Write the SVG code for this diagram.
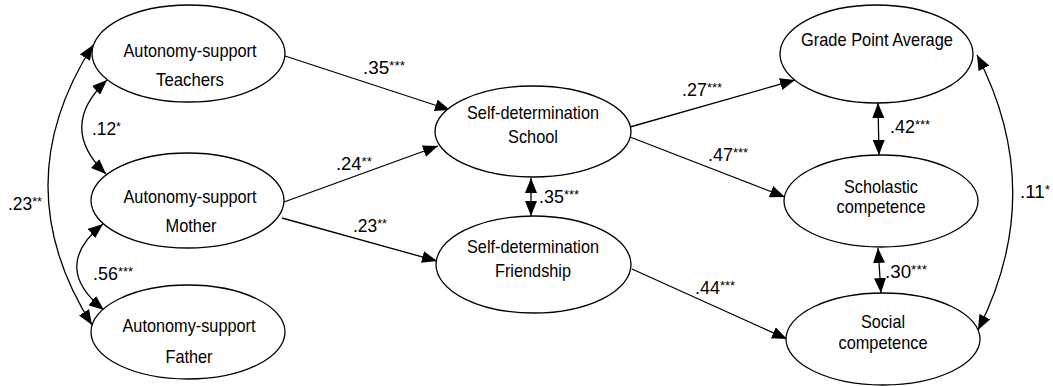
<svg xmlns="http://www.w3.org/2000/svg" width="1053" height="386" viewBox="0 0 1053 386">
<style>
.node ellipse{fill:#fff;stroke:#000;stroke-width:1.3}
text{font-family:"Liberation Sans",Arial,sans-serif;font-size:18px;fill:#000}
.node text{font-size:18.5px}
.c{text-anchor:middle}
.sup{font-size:13px}
.conn path{fill:none;stroke:#000;stroke-width:1.3}
</style>
<defs>
<marker id="ah" viewBox="0 0 15 12" refX="15" refY="6" markerWidth="15" markerHeight="12" markerUnits="userSpaceOnUse" orient="auto-start-reverse"><path d="M0,0 L15,6 L0,12 z" fill="#000"/></marker>
</defs>
<g class="conn">
<path d="M285,56 L450,110" marker-end="url(#ah)"/>
<path d="M284,202 L438,146" marker-end="url(#ah)"/>
<path d="M282,218 L437,261" marker-end="url(#ah)"/>
<path d="M630,127 L795,80" marker-end="url(#ah)"/>
<path d="M630,137 L785,197" marker-end="url(#ah)"/>
<path d="M632,269 L787,339" marker-end="url(#ah)"/>
<path d="M531,178 L531,216" marker-start="url(#ah)" marker-end="url(#ah)"/>
<path d="M878,103 L879,155" marker-start="url(#ah)" marker-end="url(#ah)"/>
<path d="M878,248 L881,293" marker-start="url(#ah)" marker-end="url(#ah)"/>
<path d="M107,80 Q57,127 106,174" marker-start="url(#ah)" marker-end="url(#ah)"/>
<path d="M103,224 Q50,267 104,310" marker-start="url(#ah)" marker-end="url(#ah)"/>
<path d="M93,45 Q3.5,185 92,325" marker-start="url(#ah)" marker-end="url(#ah)"/>
<path d="M977,55 Q1048,192 978,330" marker-start="url(#ah)" marker-end="url(#ah)"/>
</g>
<g id="labels">
<text x="363" y="74" textLength="42" lengthAdjust="spacingAndGlyphs">.35<tspan class="sup" dy="-4">***</tspan></text>
<text x="336" y="170" textLength="36" lengthAdjust="spacingAndGlyphs">.24<tspan class="sup" dy="-4">**</tspan></text>
<text x="353" y="232" textLength="34" lengthAdjust="spacingAndGlyphs">.23<tspan class="sup" dy="-4">**</tspan></text>
<text x="539" y="203" textLength="40" lengthAdjust="spacingAndGlyphs">.35<tspan class="sup" dy="-4">***</tspan></text>
<text x="682" y="96" textLength="40" lengthAdjust="spacingAndGlyphs">.27<tspan class="sup" dy="-4">***</tspan></text>
<text x="708" y="161" textLength="40" lengthAdjust="spacingAndGlyphs">.47<tspan class="sup" dy="-4">***</tspan></text>
<text x="695" y="294" textLength="40" lengthAdjust="spacingAndGlyphs">.44<tspan class="sup" dy="-4">***</tspan></text>
<text x="890" y="133" textLength="40" lengthAdjust="spacingAndGlyphs">.42<tspan class="sup" dy="-4">***</tspan></text>
<text x="885" y="278" textLength="42" lengthAdjust="spacingAndGlyphs">.30<tspan class="sup" dy="-4">***</tspan></text>
<text x="1020" y="198" textLength="30" lengthAdjust="spacingAndGlyphs">.11<tspan class="sup" dy="-4">*</tspan></text>
<text x="92" y="135" textLength="29" lengthAdjust="spacingAndGlyphs">.12<tspan class="sup" dy="-4">*</tspan></text>
<text x="93" y="280" textLength="40" lengthAdjust="spacingAndGlyphs">.56<tspan class="sup" dy="-4">***</tspan></text>
<text x="8" y="210" textLength="34" lengthAdjust="spacingAndGlyphs">.23<tspan class="sup" dy="-4">**</tspan></text>
</g>
<g id="teachers" class="node"><ellipse cx="188.5" cy="53.5" rx="96.5" ry="48.5"/><text class="c" x="190" y="57" textLength="133" lengthAdjust="spacingAndGlyphs">Autonomy-support</text><text class="c" x="190" y="86" textLength="68" lengthAdjust="spacingAndGlyphs">Teachers</text></g>
<g id="mother" class="node"><ellipse cx="187.5" cy="200.5" rx="96.5" ry="47.5"/><text class="c" x="190" y="203" textLength="133" lengthAdjust="spacingAndGlyphs">Autonomy-support</text><text class="c" x="191" y="232" textLength="51" lengthAdjust="spacingAndGlyphs">Mother</text></g>
<g id="father" class="node"><ellipse cx="188" cy="332" rx="97" ry="47"/><text class="c" x="189" y="332" textLength="133" lengthAdjust="spacingAndGlyphs">Autonomy-support</text><text class="c" x="189" y="363" textLength="47" lengthAdjust="spacingAndGlyphs">Father</text></g>
<g id="school" class="node"><ellipse cx="533" cy="131.5" rx="98" ry="45.5"/><text class="c" x="533" y="119" textLength="132" lengthAdjust="spacingAndGlyphs">Self-determination</text><text class="c" x="533" y="143" textLength="50" lengthAdjust="spacingAndGlyphs">School</text></g>
<g id="friendship" class="node"><ellipse cx="533.5" cy="264.5" rx="97.5" ry="48.5"/><text class="c" x="533" y="253" textLength="132" lengthAdjust="spacingAndGlyphs">Self-determination</text><text class="c" x="533" y="277" textLength="76" lengthAdjust="spacingAndGlyphs">Friendship</text></g>
<g id="gpa" class="node"><ellipse cx="876.5" cy="54" rx="96.5" ry="49"/><text class="c" x="877" y="46" textLength="152" lengthAdjust="spacingAndGlyphs">Grade Point Average</text></g>
<g id="scholastic" class="node"><ellipse cx="881" cy="201" rx="97" ry="46"/><text class="c" x="881" y="193" textLength="74" lengthAdjust="spacingAndGlyphs">Scholastic</text><text class="c" x="881" y="213" textLength="89" lengthAdjust="spacingAndGlyphs">competence</text></g>
<g id="social" class="node"><ellipse cx="883" cy="339" rx="97" ry="46"/><text class="c" x="883" y="328" textLength="44" lengthAdjust="spacingAndGlyphs">Social</text><text class="c" x="883" y="349" textLength="89" lengthAdjust="spacingAndGlyphs">competence</text></g>
</svg>
